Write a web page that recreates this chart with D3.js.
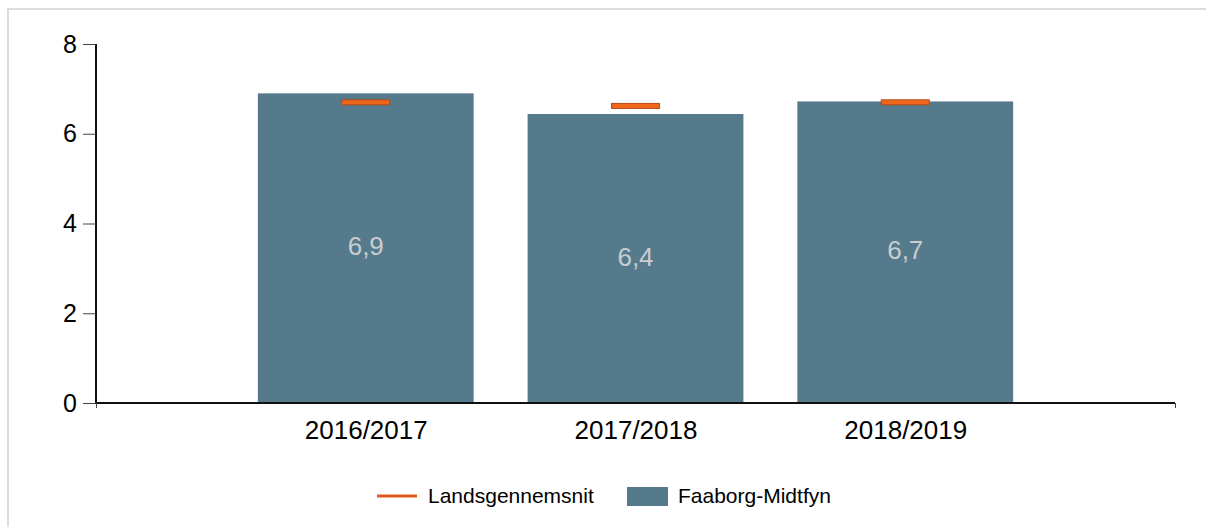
<!DOCTYPE html>
<html>
<head>
<meta charset="utf-8">
<script src="https://cdn.jsdelivr.net/npm/d3@7"></script>
<style>
  body { margin: 0; background: #fff; }
  svg { font-family: "Liberation Sans", Arial, sans-serif; }
</style>
</head>
<body>
<svg id="chart"></svg>
<script>
// data
const seasons = ["2016/2017", "2017/2018", "2018/2019"];
const kommune = [6.9, 6.44, 6.72];    // Faaborg-Midtfyn
const landsgns = [6.7, 6.62, 6.7];    // Landsgennemsnit
const yTicks = [0, 2, 4, 6, 8];
const seriesNames = ["Landsgennemsnit", "Faaborg-Midtfyn"];

const width = 1206, height = 527;
const margin = { top: 44, right: 31, bottom: 124, left: 96 };
const innerW = width - margin.left - margin.right;
const innerH = height - margin.top - margin.bottom;

const barColor = "#557a8c";
const orange = "#f0661a";

const svg = d3.select("#chart")
  .attr("width", width)
  .attr("height", height);

// light frame round the chart
svg.append("rect")
  .attr("x", 8).attr("y", 9)
  .attr("width", 1400).attr("height", 800)
  .attr("fill", "none")
  .attr("stroke", "#dddddd")
  .attr("stroke-width", 2);

const chart = svg.append("g")
  .attr("transform", `translate(${margin.left},${margin.top})`);

// categories sit at 1,2,3 on a 0..4 scale
const x = d3.scaleLinear().domain([0, seasons.length + 1]).range([0, innerW]);
const y = d3.scaleLinear().domain([0, 8]).range([innerH, 0]);
const barW = (x(1) - x(0)) * 0.8;

// bars
chart.selectAll(".bar")
  .data(kommune)
  .join("rect")
  .attr("class", "bar")
  .attr("x", (d, i) => x(i + 1) - barW / 2)
  .attr("y", d => y(d))
  .attr("width", barW)
  .attr("height", d => y(0) - y(d))
  .attr("fill", barColor);

// value labels in the middle of the bars
chart.selectAll(".val")
  .data(kommune)
  .join("text")
  .attr("class", "val")
  .attr("x", (d, i) => x(i + 1))
  .attr("y", d => (y(d) + y(0)) / 2 - 2)
  .attr("dy", "0.35em")
  .attr("text-anchor", "middle")
  .attr("fill", "#c8cdd0")
  .style("font-size", "26px")
  .text(d => d3.format(".1f")(d).replace(".", ","));

// national average markers
chart.selectAll(".avg")
  .data(landsgns)
  .join("rect")
  .attr("class", "avg")
  .attr("x", (d, i) => x(i + 1) - 24)
  .attr("y", d => y(d) - 2.5)
  .attr("width", 48)
  .attr("height", 5)
  .attr("fill", orange)
  .attr("stroke", "#b9481a")
  .attr("stroke-width", 1);

// y axis
const yAxis = d3.axisLeft(y).tickValues(yTicks).tickSize(13).tickPadding(6);
const yG = chart.append("g").call(yAxis);
yG.select(".domain").attr("stroke", "#111").attr("stroke-width", 2)
  .attr("d", `M0,${innerH}V0`);
yG.selectAll(".tick line").attr("stroke", "#444");
yG.selectAll(".tick text").style("font-size", "25px").attr("fill", "#000");

// x axis
const xAxis = d3.axisBottom(x)
  .tickValues([0, 1, 2, 3, 4])
  .tickSize(5)
  .tickFormat(d => seasons[d - 1] || "");
const xG = chart.append("g")
  .attr("transform", `translate(0,${innerH})`)
  .call(xAxis);
xG.select(".domain").attr("stroke", "#111").attr("stroke-width", 2)
  .attr("d", `M0,0H${innerW}`);
xG.selectAll(".tick line").attr("stroke", "#444")
  .attr("display", d => (d === 0 || d === 4) ? null : "none");
xG.selectAll(".tick text")
  .attr("y", 0).attr("dy", "1.4em")
  .style("font-size", "26px").attr("fill", "#000");

// legend
const legend = svg.append("g").attr("transform", "translate(377,496)");
legend.append("line")
  .attr("x1", 0).attr("x2", 40)
  .attr("stroke", "#e0571c").attr("stroke-width", 3);
legend.append("text")
  .attr("x", 51).attr("dy", "0.35em")
  .style("font-size", "21px")
  .text(seriesNames[0]);
legend.append("rect")
  .attr("x", 250).attr("y", -9)
  .attr("width", 41).attr("height", 19)
  .attr("fill", barColor);
legend.append("text")
  .attr("x", 301).attr("dy", "0.35em")
  .style("font-size", "21px")
  .text(seriesNames[1]);
</script>
</body>
</html>
